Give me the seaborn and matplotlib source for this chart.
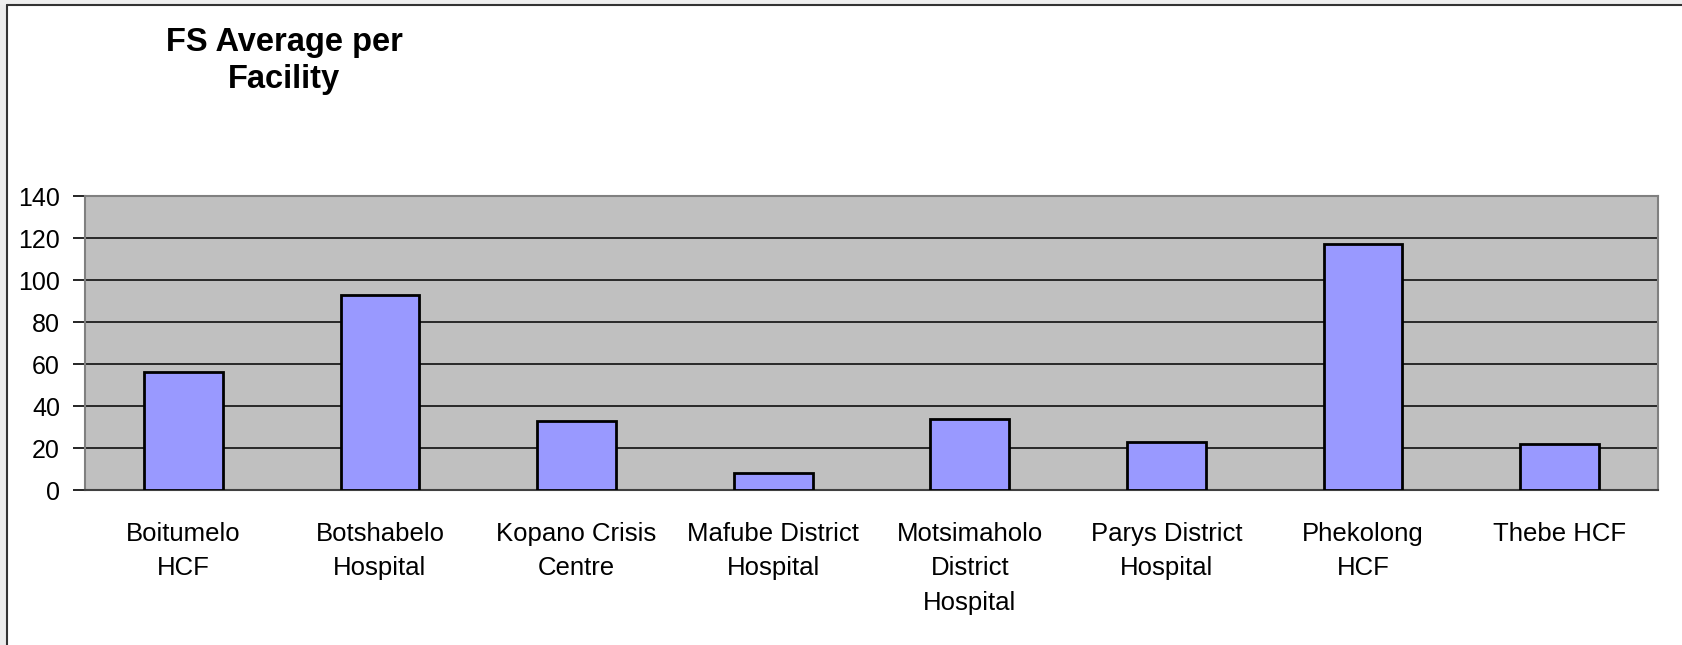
import matplotlib
matplotlib.use("Agg")
import matplotlib.pyplot as plt
import seaborn as sns
import pandas as pd
from matplotlib.patches import Rectangle
from matplotlib.lines import Line2D

facilities = ["Boitumelo\nHCF", "Botshabelo\nHospital", "Kopano Crisis\nCentre",
              "Mafube District\nHospital", "Motsimaholo\nDistrict\nHospital",
              "Parys District\nHospital", "Phekolong\nHCF", "Thebe HCF"]
averages = [56, 93, 33, 8, 34, 23, 117, 22]
yticks = [0, 20, 40, 60, 80, 100, 120, 140]

sns.set_style("white")
plt.rcParams['font.family'] = ['Liberation Sans', 'DejaVu Sans']
plt.rcParams['text.color'] = 'black'
plt.rcParams['xtick.color'] = 'black'
plt.rcParams['ytick.color'] = 'black'

df = pd.DataFrame({"facility": facilities, "avg": averages})

fig = plt.figure(figsize=(16.82, 6.45), dpi=100, facecolor="white")
ax = fig.add_axes([85 / 1682, 1 - 490 / 645, (1658 - 85) / 1682, (490 - 196) / 645])
ax.set_facecolor("#C0C0C0")

sns.barplot(data=df, x="facility", y="avg", color="#9999FF", width=0.4,
            edgecolor="black", linewidth=2, saturation=1, ax=ax, zorder=3)

ax.set_ylim(0, 140)
ax.set_xlim(-0.5, len(facilities) - 0.5)
ax.set_yticks(yticks)
ax.yaxis.grid(True, color="black", linewidth=1.1, zorder=1)
ax.set_axisbelow(True)
ax.set_xlabel("")
ax.set_ylabel("")

# ticks between categories, like the old spreadsheet chart
ax.set_xticks([i - 0.5 for i in range(len(facilities) + 1)], minor=True)
ax.tick_params(axis="x", which="major", length=0, pad=23, labelsize=18.5)
ax.tick_params(axis="x", which="minor", length=9, width=1.2, color="black", direction="out")
ax.tick_params(axis="y", length=9, width=1.2, color="black", direction="out",
               pad=9, labelsize=18, left=True)
for lab in ax.get_xticklabels():
    lab.set_linespacing(1.55)

for side in ["top", "right", "left", "bottom"]:
    ax.spines[side].set_color("#808080")
    ax.spines[side].set_linewidth(1.5)
ax.spines["bottom"].set_color("#404040")

fig.text(265 * 1682 / 1568 / 1682, 1 - 27 / 645, "FS Average per\nFacility", ha="center", va="top",
         fontsize=23.5, fontweight="bold", linespacing=1.25)

# outer frame: grey margin with a dark line on the left and top
fig.add_artist(Rectangle((0, 0), 7 / 1682, 1, transform=fig.transFigure,
                         facecolor="#ECECEC", edgecolor="none"))
fig.add_artist(Rectangle((0, 1 - 5 / 645), 1, 5 / 645, transform=fig.transFigure,
                         facecolor="#EFEFEF", edgecolor="none"))
fig.add_artist(Line2D([7 / 1682, 7 / 1682], [0, 1 - 5 / 645], transform=fig.transFigure,
                      color="#333333", linewidth=1.5))
fig.add_artist(Line2D([7 / 1682, 1], [1 - 5 / 645, 1 - 5 / 645], transform=fig.transFigure,
                      color="#333333", linewidth=1.5))

fig.savefig("out.png", dpi=100, facecolor=fig.get_facecolor())
